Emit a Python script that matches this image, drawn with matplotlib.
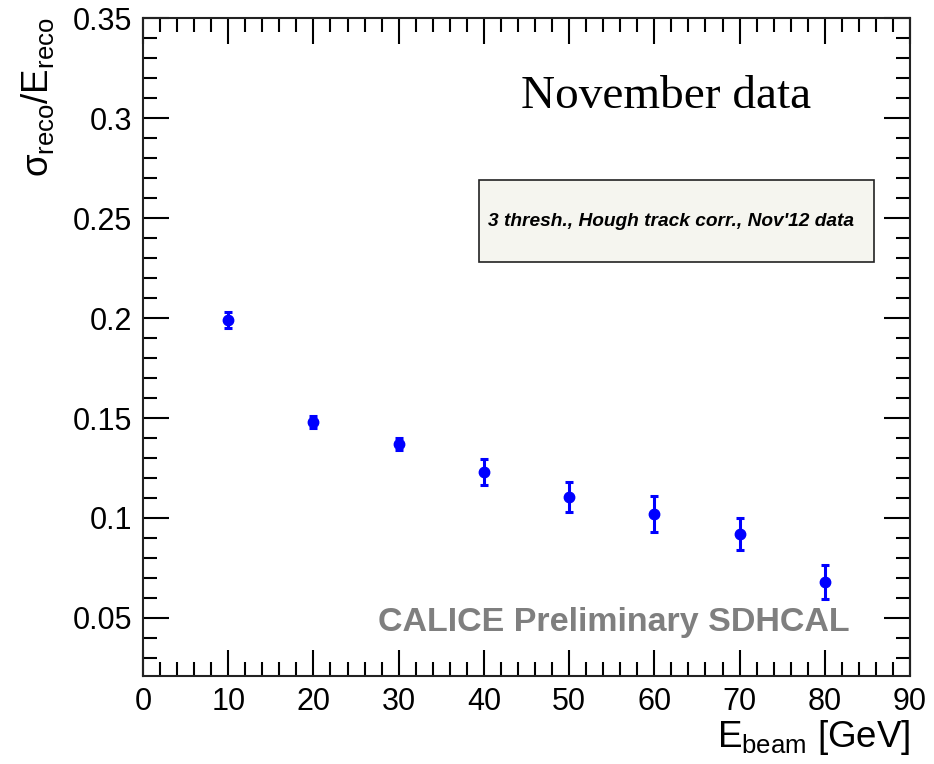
import numpy as np
import matplotlib
matplotlib.use("Agg")
from matplotlib import pyplot as plt
from matplotlib.ticker import MultipleLocator

plt.rcParams['font.family'] = ['Liberation Sans', 'DejaVu Sans']
plt.rcParams['mathtext.fontset'] = 'custom'
plt.rcParams['mathtext.rm'] = 'Liberation Sans'
plt.rcParams['mathtext.it'] = 'Liberation Sans'
plt.rcParams['mathtext.bf'] = 'Liberation Sans:bold'

# beam energies and relative resolution
e_beam = [10, 20, 30, 40, 50, 60, 70, 80]
resolution = [0.199, 0.148, 0.137, 0.123, 0.1105, 0.102, 0.092, 0.068]
res_err = [0.004, 0.003, 0.003, 0.0065, 0.0073, 0.009, 0.008, 0.0083]

fig = plt.figure(figsize=(9.34, 7.64), dpi=100)
ax = fig.add_axes([0.1531, 0.1152, 0.8212, 0.8612])

ax.errorbar(e_beam, resolution, yerr=res_err, fmt='o', color='#0000ff',
            markersize=7.5, elinewidth=2.2, capsize=3, capthick=2.2)

ax.set_xlim(0, 90)
ax.set_ylim(0.021, 0.35)
ax.xaxis.set_major_locator(MultipleLocator(10))
ax.xaxis.set_minor_locator(MultipleLocator(2))
ax.yaxis.set_major_locator(MultipleLocator(0.05))
ax.yaxis.set_minor_locator(MultipleLocator(0.01))
ax.set_yticks([0.05, 0.1, 0.15, 0.2, 0.25, 0.3, 0.35])
ax.set_yticklabels(['0.05', '0.1', '0.15', '0.2', '0.25', '0.3', '0.35'])

ax.tick_params(which='both', direction='in', top=True, right=True,
               labelsize=22, width=1.5, pad=8)
ax.tick_params(which='major', length=19)
ax.tick_params(which='minor', length=10)
for s in ax.spines.values():
    s.set_linewidth(1.5)
    s.set_color('#222222')

ax.set_xlabel(r'$E_{\mathrm{beam}}$ [GeV]', fontsize=26.5, loc='right', labelpad=1)
ax.set_ylabel(r'$\sigma_{\mathrm{reco}}/E_{\mathrm{reco}}$', fontsize=26.5, loc='top',
              labelpad=12)

ax.text(0.682, 0.88, 'November data', transform=ax.transAxes, fontsize=34,
        family='Liberation Serif', ha='center', va='center')

ax.text(0.614, 0.082, 'CALICE Preliminary SDHCAL', transform=ax.transAxes,
        fontsize=24.5, fontweight='bold', color='#7f7f7f', ha='center', va='center')

# info box
box = plt.Rectangle((0.438, 0.629), 0.515, 0.1246, transform=ax.transAxes,
                    facecolor='#f5f5ef', edgecolor='#222222', linewidth=1.2, zorder=3)
ax.add_patch(box)
ax.text(0.688, 0.6915, "3 thresh., Hough track corr., Nov'12 data",
        transform=ax.transAxes, fontsize=13.8, fontweight='bold', style='italic',
        ha='center', va='center', zorder=4)

fig.savefig('out.png', dpi=100)
